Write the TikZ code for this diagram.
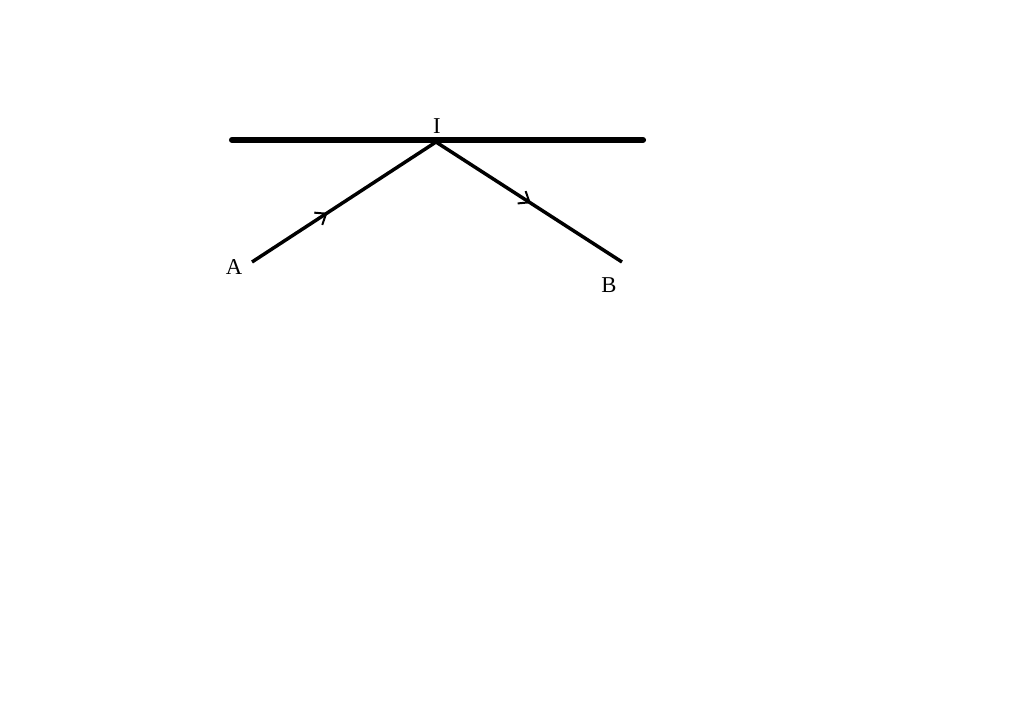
\documentclass[tikz,border=0pt]{standalone}
\usepackage{fontspec}
\setmainfont{Liberation Serif}
\usetikzlibrary{decorations.markings,arrows.meta}
\tikzset{
  ray/.style={line width=2.6pt, draw=black},
  mirror/.style={line width=4.6pt, line cap=round, draw=black},
  lbl/.style={font=\fontsize{17}{20}\selectfont, inner sep=0pt},
  midarrow/.style={postaction={decorate}, decoration={markings,
     mark=at position #1 with {\arrow{Straight Barb[length=7pt,width=11pt,line width=1.5pt]}}}}
}
\begin{document}
\begin{tikzpicture}[x=0.75pt,y=-0.75pt]
\useasboundingbox (0,0) rectangle (1024,721);
\coordinate (ML) at (232,140);
\coordinate (MR) at (643,140);
\coordinate (A) at (252,262);
\coordinate (I) at (436,142);
\coordinate (B) at (622,262);
\draw[mirror] (ML) -- (MR);
\draw[ray, midarrow=0.41] (A) -- (I);
\draw[ray, midarrow=0.51] (I) -- (B);
\node[lbl] (lA) at (234,267) {A};
\node[lbl] (lI) at (437,126) {I};
\node[lbl] (lB) at (609,285) {B};
\end{tikzpicture}
\end{document}
